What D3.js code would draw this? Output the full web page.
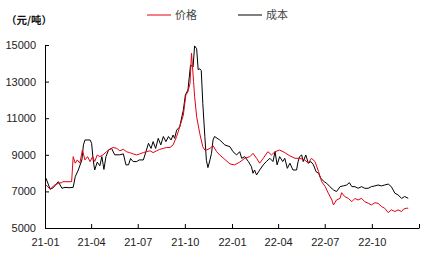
<!DOCTYPE html>
<html>
<head>
<meta charset="utf-8">
<script src="https://cdn.jsdelivr.net/npm/d3@7"></script>
<style>
  html, body { margin: 0; padding: 0; background: #fff; }
  svg { display: block; }
</style>
</head>
<body>
<svg id="chart" width="445" height="259"></svg>
<script>
const seriesNames = ['价格', '成本']
const unitLabel = '（元/吨）'
const xDomain = ['2021-01-01', '2023-01-01']
const yTickValues = [5000, 7000, 9000, 11000, 13000, 15000]

const priceDates = [
  '2021-01-03', '2021-01-11', '2021-01-20', '2021-01-27', '2021-02-03', '2021-02-05', '2021-02-22', '2021-02-25',
  '2021-03-01', '2021-03-05', '2021-03-10', '2021-03-15', '2021-03-20', '2021-03-25', '2021-03-30', '2021-04-04',
  '2021-04-08', '2021-04-13', '2021-04-18', '2021-04-24', '2021-05-01', '2021-05-07', '2021-05-14', '2021-05-21',
  '2021-05-27', '2021-06-03', '2021-06-09', '2021-06-15', '2021-06-22', '2021-06-29', '2021-07-05', '2021-07-12',
  '2021-07-18', '2021-07-25', '2021-07-31', '2021-08-07', '2021-08-13', '2021-08-20', '2021-08-26', '2021-09-02',
  '2021-09-08', '2021-09-15', '2021-09-21', '2021-09-28', '2021-10-03', '2021-10-07', '2021-10-11', '2021-10-14',
  '2021-10-18', '2021-10-20', '2021-10-24', '2021-10-30', '2021-11-05', '2021-11-09', '2021-11-12', '2021-11-19',
  '2021-11-25', '2021-12-02', '2021-12-08', '2021-12-18', '2021-12-28', '2022-01-06', '2022-01-16', '2022-01-26',
  '2022-02-05', '2022-02-11', '2022-02-18', '2022-02-24', '2022-03-03', '2022-03-12', '2022-03-19', '2022-03-26',
  '2022-04-04', '2022-04-14', '2022-04-24', '2022-05-04', '2022-05-13', '2022-05-23', '2022-05-30', '2022-06-05',
  '2022-06-12', '2022-06-19', '2022-06-25', '2022-07-02', '2022-07-08', '2022-07-15', '2022-07-18', '2022-07-24',
  '2022-07-31', '2022-08-03', '2022-08-09', '2022-08-16', '2022-08-23', '2022-08-29', '2022-09-04', '2022-09-11',
  '2022-09-17', '2022-09-24', '2022-09-30', '2022-10-07', '2022-10-13', '2022-10-20', '2022-10-26', '2022-11-02',
  '2022-11-08', '2022-11-15', '2022-11-21', '2022-11-28', '2022-12-02', '2022-12-07', '2022-12-11'
]
const priceValues = [
  7350, 7120, 7350, 7440, 7480, 7530, 7530, 8900,
  8540, 8720, 8540, 9260, 8720, 8900, 8630, 8900,
  8630, 8990, 8900, 8990, 9170, 9300, 9400, 9350,
  9220, 9300, 9170, 9120, 9050, 8990, 9050, 9120,
  9170, 9220, 9120, 9220, 9300, 9350, 9400, 9400,
  9540, 10000, 10530, 11170, 12270, 12450, 12900, 14550,
  13000, 12200, 11080, 10170, 9440, 9260, 9260, 9350,
  9500, 9170, 8990, 8750, 8500, 8450, 8600, 8810,
  8900, 9080, 8810, 8540, 8810, 9170, 8990, 9170,
  9260, 9120, 8940, 8810, 8810, 8720, 8540, 8810,
  8630, 8080, 7530, 7260, 6900, 6530, 6260, 6530,
  6620, 6930, 6720, 6620, 6440, 6620, 6530, 6620,
  6440, 6350, 6260, 6380, 6350, 6170, 6080, 5840,
  5990, 5900, 5990, 5900, 6030, 6080, 6080
]

const costDates = [
  '2021-01-03', '2021-01-11', '2021-01-17', '2021-01-27', '2021-02-03', '2021-02-09', '2021-02-17', '2021-02-25',
  '2021-03-01', '2021-03-07', '2021-03-14', '2021-03-17', '2021-03-20', '2021-03-30', '2021-04-02', '2021-04-05',
  '2021-04-08', '2021-04-13', '2021-04-18', '2021-04-22', '2021-04-26', '2021-04-30', '2021-05-05', '2021-05-11',
  '2021-05-17', '2021-05-27', '2021-06-03', '2021-06-08', '2021-06-13', '2021-06-17', '2021-06-22', '2021-06-29',
  '2021-07-04', '2021-07-12', '2021-07-17', '2021-07-22', '2021-07-27', '2021-07-31', '2021-08-05', '2021-08-10',
  '2021-08-15', '2021-08-20', '2021-08-25', '2021-08-30', '2021-09-04', '2021-09-08', '2021-09-11', '2021-09-15',
  '2021-09-21', '2021-09-28', '2021-10-02', '2021-10-07', '2021-10-12', '2021-10-17', '2021-10-20', '2021-10-24',
  '2021-10-27', '2021-10-30', '2021-11-02', '2021-11-05', '2021-11-09', '2021-11-12', '2021-11-15', '2021-11-19',
  '2021-11-22', '2021-11-25', '2021-11-28', '2021-12-08', '2021-12-18', '2021-12-28', '2022-01-03', '2022-01-10',
  '2022-01-16', '2022-01-20', '2022-01-26', '2022-02-02', '2022-02-08', '2022-02-11', '2022-02-14', '2022-02-18',
  '2022-02-24', '2022-03-03', '2022-03-09', '2022-03-16', '2022-03-22', '2022-03-26', '2022-03-30', '2022-04-04',
  '2022-04-10', '2022-04-14', '2022-04-19', '2022-04-24', '2022-04-30', '2022-05-07', '2022-05-10', '2022-05-13',
  '2022-05-17', '2022-05-20', '2022-05-25', '2022-05-30', '2022-06-04', '2022-06-09', '2022-06-14', '2022-06-19',
  '2022-06-23', '2022-06-30', '2022-07-05', '2022-07-11', '2022-07-18', '2022-07-24', '2022-07-31', '2022-08-06',
  '2022-08-13', '2022-08-18', '2022-08-23', '2022-08-29', '2022-09-04', '2022-09-11', '2022-09-17', '2022-09-24',
  '2022-09-30', '2022-10-07', '2022-10-13', '2022-10-20', '2022-10-26', '2022-11-02', '2022-11-08', '2022-11-15',
  '2022-11-21', '2022-11-28', '2022-12-04', '2022-12-11'
]
const costValues = [
  7720, 7120, 7200, 7530, 7170, 7220, 7200, 7220,
  7800, 8170, 8720, 9540, 9810, 9810, 9630, 8720,
  8170, 8600, 8400, 8900, 8200, 8900, 9260, 9350,
  9000, 9000, 9050, 8450, 8450, 8800, 8630, 8630,
  8720, 8720, 9170, 9630, 9350, 9720, 9350, 9900,
  9540, 10000, 9720, 10000, 9810, 10080, 9900, 10350,
  10530, 11450, 12270, 12540, 13900, 13800, 14950, 14800,
  13650, 13700, 13600, 11800, 10000, 8700, 8300, 8720,
  9080, 9810, 10000, 9810, 9540, 9440, 9170, 8990,
  9170, 8810, 8900, 8630, 8350, 7990, 8170, 7900,
  8170, 8450, 8630, 8810, 8630, 9170, 8450, 8900,
  8630, 8810, 8260, 8540, 8170, 8170, 8630, 8900,
  8990, 8630, 8990, 8540, 8630, 8450, 8080, 7990,
  7720, 7530, 7440, 7260, 7080, 6990, 7260, 7300,
  7350, 7480, 7260, 7260, 7170, 7260, 7170, 7170,
  7260, 7300, 7350, 7300, 7350, 7400, 7260, 6900,
  6810, 6620, 6720, 6620
]

const seriesColors = ['#e60012', '#000000']
const width = 445
const height = 259
const margin = { top: 45, right: 26, bottom: 31, left: 45 }

const parseDate = d3.timeParse('%Y-%m-%d')
const svg = d3.select('#chart')

const x = d3.scaleTime()
  .domain(xDomain.map(parseDate))
  .range([margin.left, width - margin.right])

const y = d3.scaleLinear()
  .domain([d3.min(yTickValues), d3.max(yTickValues)])
  .range([height - margin.bottom, margin.top])

const series = [
  { name: seriesNames[0], color: seriesColors[0], points: priceDates.map((d, i) => ({ date: parseDate(d), value: priceValues[i] })) },
  { name: seriesNames[1], color: seriesColors[1], points: costDates.map((d, i) => ({ date: parseDate(d), value: costValues[i] })) }
]

const line = d3.line()
  .x(d => x(d.date))
  .y(d => y(d.value))

// draw cost first so the price line sits on top where they overlap
svg.selectAll('path.series')
  .data(series.slice().reverse())
  .enter()
  .append('path')
  .attr('class', 'series')
  .attr('fill', 'none')
  .attr('stroke', d => d.color)
  .attr('stroke-width', 1)
  .attr('stroke-linejoin', 'round')
  .attr('d', d => line(d.points))

const tickFont = '"Liberation Sans", Arial, sans-serif'

const yAxis = svg.append('g')
  .attr('transform', 'translate(' + margin.left + ',0)')
  .call(d3.axisLeft(y).tickValues(yTickValues).tickSizeInner(-4).tickSizeOuter(0).tickPadding(9).tickFormat(d3.format('d')))

const xAxis = svg.append('g')
  .attr('transform', 'translate(0,' + (height - margin.bottom) + ')')
  .call(d3.axisBottom(x).ticks(d3.timeMonth.every(3)).tickSizeInner(-4).tickSizeOuter(0).tickPadding(10)
    .tickFormat(d => d.getFullYear() >= 2023 ? '' : d3.timeFormat('%y-%m')(d)))

;[yAxis, xAxis].forEach(axis => {
  axis.selectAll('path, line').attr('stroke', '#000').attr('stroke-width', 1)
  axis.selectAll('text')
    .attr('fill', '#222')
    .style('font-family', tickFont)
    .style('font-size', '11px')
})

svg.append('text')
  .attr('x', 6)
  .attr('y', 24)
  .attr('fill', '#111')
  .style('font-family', '"Noto Sans CJK JP", "Noto Sans CJK SC", sans-serif')
  .style('font-size', '10.5px')
  .style('font-weight', 'bold')
  .text(unitLabel)

const legendX = [147, 238]
const legend = svg.selectAll('g.legend')
  .data(series)
  .enter()
  .append('g')
  .attr('class', 'legend')
  .attr('transform', (d, i) => 'translate(' + legendX[i] + ',15)')

legend.append('line')
  .attr('x1', 0)
  .attr('x2', 24)
  .attr('stroke', d => d.color)
  .attr('stroke-width', 1)

legend.append('text')
  .attr('x', 28)
  .attr('dy', '0.35em')
  .attr('fill', '#444')
  .style('font-family', '"Noto Sans CJK SC", sans-serif')
  .style('font-size', '11px')
  .text(d => d.name)
</script>
</body>
</html>
